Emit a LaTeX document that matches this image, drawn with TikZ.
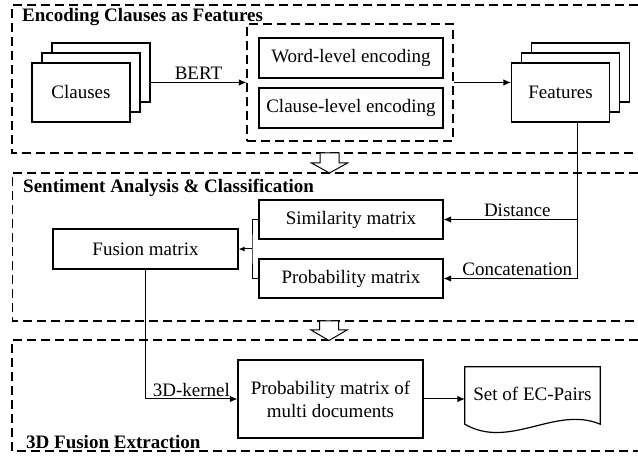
\documentclass[tikz,border=0pt]{standalone}
\usepackage{fontspec}
\setmainfont{Liberation Serif}
\usetikzlibrary{arrows.meta}
\pgfdeclarelayer{edgelayer}
\pgfdeclarelayer{nodelayer}
\pgfsetlayers{edgelayer,nodelayer,main}
\tikzstyle{block}=[rectangle,fill=white,draw=black,line width=1.2pt,inner sep=0pt,align=center]
\tikzstyle{stack}=[block,minimum width=98pt,minimum height=59pt]
\tikzstyle{group}=[rectangle,draw=black,line width=1.2pt,dash pattern=on 9pt off 5pt]
\tikzstyle{heading}=[font=\fontsize{19}{23}\selectfont\bfseries,inner sep=0pt,anchor=base west]
\tikzstyle{line}=[draw=black,line width=1pt]
\tikzstyle{flow}=[-{Latex[length=7.5pt,width=6.5pt]},draw=black,line width=1pt]
\tikzstyle{small flow}=[-{Latex[length=6pt,width=5pt]},draw=black,line width=1pt]
\tikzstyle{tag}=[above,inner sep=2pt]
\tikzstyle{hollow}=[draw=black,fill=white,line width=1pt]

\begin{document}
\begin{tikzpicture}[x=10pt,y=10pt,font=\fontsize{19}{23}\selectfont]
	\useasboundingbox (0,0) rectangle (63.8,-45.7);
	\begin{pgfonlayer}{nodelayer}
		\node [style=stack] (0) at (10.1, -7.25) {};
		\node [style=stack] (1) at (9.1, -8.25) {};
		\node [style=stack] (2) at (8.1, -9.25) {Clauses};
		\node [style=stack] (3) at (58.05, -7.25) {};
		\node [style=stack] (4) at (57.05, -8.25) {};
		\node [style=stack] (5) at (56.05, -9.25) {Features};
		\node [style=group, minimum width=206pt, minimum height=117pt] (6) at (35, -8.25) {};
		\node [style=block, minimum width=184pt, minimum height=40pt] (7) at (35.1, -5.8) {Word-level encoding};
		\node [style=block, minimum width=184pt, minimum height=40pt] (8) at (35.1, -10.8) {Clause-level encoding};
		\node [style=block, minimum width=185pt, minimum height=40pt] (9) at (14.55, -24.9) {Fusion matrix};
		\node [style=block, minimum width=184pt, minimum height=39pt] (10) at (35.1, -21.95) {Similarity matrix};
		\node [style=block, minimum width=184pt, minimum height=39pt] (11) at (35.1, -27.85) {Probability matrix};
		\node [style=block, minimum width=185pt, minimum height=78pt] (12) at (33.05, -39.9) {Probability matrix of\\multi documents};
		\node [inner sep=0pt, minimum width=135pt, minimum height=57pt] (13) at (53.25, -39.55) {\raisebox{4pt}{Set of EC-Pairs}};
		\node [style=heading] (14) at (2.2, -2.2) {Encoding Clauses as Features};
		\node [style=heading] (15) at (2.3, -19.3) {Sentiment Analysis \& Classification};
		\node [style=heading] (16) at (2.6, -44.8) {3D Fusion Extraction};
		\coordinate (17) at (57.75, -27.85);
		\coordinate (18) at (25.2, -24.9);
	\end{pgfonlayer}
	\begin{pgfonlayer}{edgelayer}
		\draw [style=group] (63.8, -0.5) -- (1.2, -0.5) -- (1.2, -15.3) -- (63.8, -15.3);
		\draw [style=group] (63.8, -17.3) -- (1.25, -17.3) -- (1.25, -32.1) -- (63.8, -32.1);
		\draw [style=group] (63.8, -34.0) -- (1.2, -34.0) -- (1.2, -45.1) -- (63.8, -45.1);
		\draw [style=hollow] (32.0, -15.3) -- (32.0, -16.3) -- (31.15, -16.3) -- (32.95, -17.3)
			-- (34.75, -16.3) -- (33.9, -16.3) -- (33.9, -15.3) -- cycle;
		\draw [style=hollow] (31.95, -32.1) -- (31.95, -33.0) -- (31.1, -33.0) -- (32.9, -34.05)
			-- (34.7, -33.0) -- (33.85, -33.0) -- (33.85, -32.1) -- cycle;
		% document outline under the text of (13)
		\draw [style=block] (13.south west) -- (13.north west) -- (13.north east) -- (13.south east)
			.. controls +(-4.5, 1.9) and +(4.5, -2.6) .. (13.south west) -- cycle;
	\end{pgfonlayer}
	\draw [style=flow] (0.east |- 1.east) to node[style=tag]{BERT} (6.west);
	\draw [style=flow] (6.east) to (5.west |- 6.east);
	\draw [style=line] (17 |- 5.south) to (17);
	\draw [style=flow] (17 |- 10.east) to node[style=tag, pos=0.45]{Distance} (10.east);
	\draw [style=flow] (17) to node[style=tag, pos=0.45]{Concatenation} (11.east);
	\draw [style=line] (10.west) -| (18) |- (11.west);
	\draw [style=small flow] (18) to (9.east);
	\draw [style=flow] (9.south) |- node[style=tag, pos=0.75]{3D-kernel} (12.west);
	\draw [style=flow] (12.east) to (13.west |- 12.east);
\end{tikzpicture}
\end{document}
